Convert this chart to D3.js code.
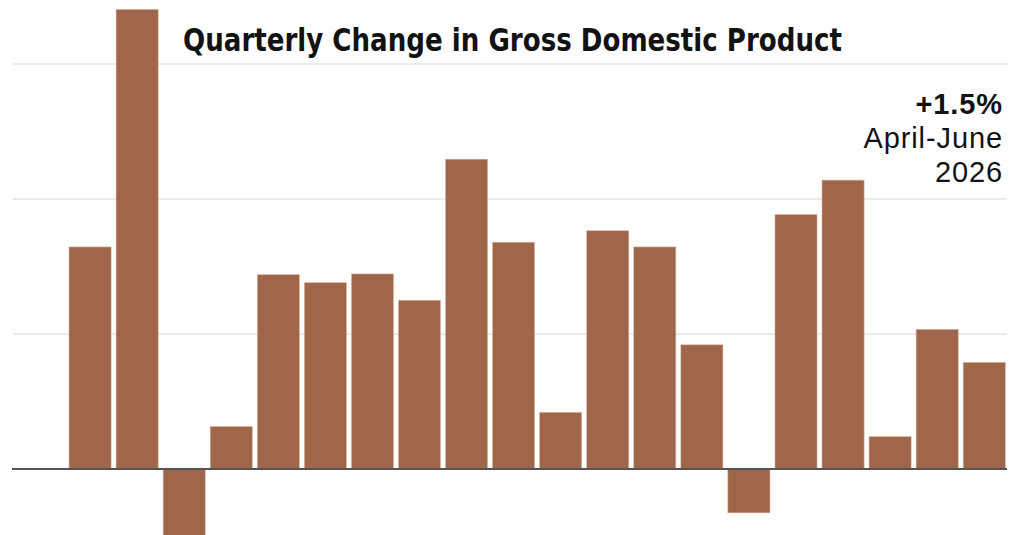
<!DOCTYPE html>
<html>
<head>
<meta charset="utf-8">
<script src="https://cdn.jsdelivr.net/npm/d3@7"></script>
<style>
  html, body { margin: 0; padding: 0; background: #fff; }
  svg { display: block; }
</style>
</head>
<body>
<svg id="chart" width="1024" height="535"></svg>
<script>
// ---- data ----
const quarters = ["Q1","Q2","Q3","Q4","Q5","Q6","Q7","Q8","Q9","Q10",
                  "Q11","Q12","Q13","Q14","Q15","Q16","Q17","Q18","Q19","Q20"];
const gdpChange = [3.29, 6.81, -1.0, 0.63, 2.88, 2.76, 2.89, 2.50, 4.59, 3.36,
                   0.84, 3.53, 3.29, 1.84, -0.65, 3.77, 4.28, 0.48, 2.07, 1.58];
const gridTicks = [0, 2, 4, 6];
const titleText = "Quarterly Change in Gross Domestic Product";
const annotationLines = ["+1.5%", "April-June", "2026"];

// ---- layout ----
const svg = d3.select("#chart");

const x = d3.scaleBand()
  .domain(quarters)
  .range([66.65, 1007.65])
  .paddingInner(0.105)
  .paddingOuter(0.05);

const y = d3.scaleLinear()
  .domain([0, 6])
  .range([469, 64]);

// gridlines
svg.append("g").attr("class", "grid")
  .selectAll("line")
  .data(gridTicks.filter(d => d !== 0))
  .join("line")
  .attr("x1", 13).attr("x2", 1007)
  .attr("y1", d => y(d)).attr("y2", d => y(d))
  .attr("stroke", "#e5e5e5")
  .attr("stroke-width", 1.5);

// bars
svg.append("g").attr("class", "bars")
  .selectAll("rect")
  .data(gdpChange)
  .join("rect")
  .attr("x", (d, i) => x(quarters[i]))
  .attr("width", x.bandwidth())
  .attr("y", d => y(Math.max(0, d)))
  .attr("height", d => Math.abs(y(d) - y(0)))
  .attr("fill", "#a0664a")
  .attr("stroke", "#dcb8a6")
  .attr("stroke-width", 0.6);

// baseline
svg.append("line")
  .attr("x1", 12).attr("x2", 1007)
  .attr("y1", y(0)).attr("y2", y(0))
  .attr("stroke", "#555")
  .attr("stroke-width", 1.8);

// title
svg.append("text")
  .attr("x", 183)
  .attr("y", 51)
  .attr("font-family", "'Liberation Sans Narrow', 'DejaVu Sans Condensed', 'Roboto Condensed', sans-serif")
  .attr("font-weight", "bold")
  .attr("font-size", 32)
  .attr("textLength", 659)
  .attr("lengthAdjust", "spacingAndGlyphs")
  .attr("fill", "#121212")
  .text(titleText);

// annotation
const ann = svg.append("g")
  .attr("font-family", "'Liberation Sans', Arial, sans-serif")
  .attr("font-size", 29)
  .attr("letter-spacing", 0.9)
  .attr("fill", "#121212")
  .attr("text-anchor", "end");
ann.selectAll("text")
  .data(annotationLines)
  .join("text")
  .attr("x", 1003)
  .attr("y", (d, i) => 114 + i * 34)
  .attr("font-weight", (d, i) => i === 0 ? "bold" : "normal")
  .text(d => d);
</script>
</body>
</html>
